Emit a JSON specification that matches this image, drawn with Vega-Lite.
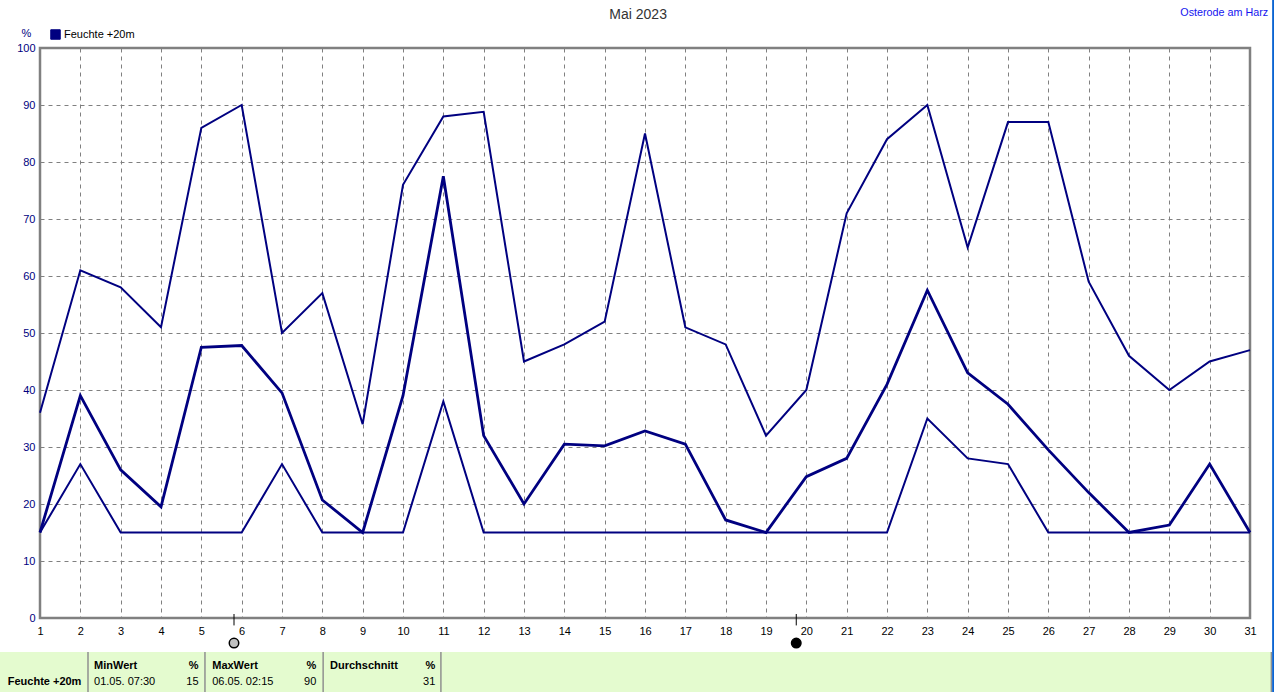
{"$schema":"https://vega.github.io/schema/vega-lite/v6.json","width":1210,"height":570,"autosize":{"type":"none"},"padding":{"left":40,"top":48,"right":24,"bottom":74},"background":"white","view":{"stroke":"#808080","strokeWidth":2.5},"config":{"font":"Liberation Sans"},"datasets":{"series":[
{"day":1,"max":36,"mean":15,"min":15},{"day":2,"max":61,"mean":39,"min":27},{"day":3,"max":58,"mean":26,"min":15},{"day":4,"max":51,"mean":19.5,"min":15},{"day":5,"max":86,"mean":47.5,"min":15},{"day":6,"max":90,"mean":47.8,"min":15},{"day":7,"max":50,"mean":39.5,"min":27},{"day":8,"max":57,"mean":20.7,"min":15},{"day":9,"max":34,"mean":15,"min":15},{"day":10,"max":76,"mean":39,"min":15},{"day":11,"max":88,"mean":77.5,"min":38},{"day":12,"max":88.8,"mean":32,"min":15},{"day":13,"max":45,"mean":20,"min":15},{"day":14,"max":48,"mean":30.5,"min":15},{"day":15,"max":52,"mean":30.2,"min":15},{"day":16,"max":85,"mean":32.8,"min":15},{"day":17,"max":51,"mean":30.5,"min":15},{"day":18,"max":48,"mean":17.2,"min":15},{"day":19,"max":32,"mean":15,"min":15},{"day":20,"max":40,"mean":24.8,"min":15},{"day":21,"max":71,"mean":28,"min":15},{"day":22,"max":84,"mean":41,"min":15},{"day":23,"max":90,"mean":57.5,"min":35},{"day":24,"max":65,"mean":43,"min":28},{"day":25,"max":87,"mean":37.5,"min":27},{"day":26,"max":87,"mean":29.5,"min":15},{"day":27,"max":59,"mean":22,"min":15},{"day":28,"max":46,"mean":15,"min":15},{"day":29,"max":40,"mean":16.3,"min":15},{"day":30,"max":45,"mean":27,"min":15},{"day":31,"max":47,"mean":15,"min":15}],
"band":[{"a":0,"b":31.53,"lo":-13.1,"hi":-5.96}],
"seps":[{"day":2.19},{"day":5.09},{"day":8.02},{"day":10.94},{"day":31.53}],
"moons":[{"day":5.81,"phase":"full"},{"day":19.75,"phase":"new"}],
"boldLeft":[
{"day":0.2,"pct":-11.25,"t":"Feuchte +20m"},
{"day":2.34,"pct":-8.4,"t":"MinWert"},
{"day":5.27,"pct":-8.4,"t":"MaxWert"},
{"day":8.19,"pct":-8.4,"t":"Durchschnitt"}],
"normalLeft":[
{"day":2.34,"pct":-11.25,"t":"01.05.  07:30"},
{"day":5.27,"pct":-11.25,"t":"06.05.  02:15"}],
"boldRight":[
{"day":4.93,"pct":-8.4,"t":"%"},
{"day":7.85,"pct":-8.4,"t":"%"},
{"day":10.8,"pct":-8.4,"t":"%"}],
"normalRight":[
{"day":4.93,"pct":-11.25,"t":"15"},
{"day":7.85,"pct":-11.25,"t":"90"},
{"day":10.8,"pct":-11.25,"t":"31"}],
"heading":[{"day":15.83,"pct":105.8,"t":"Mai 2023"}],
"place":[{"day":31.45,"pct":106.2,"t":"Osterode am Harz"}],
"edge":[{"day":31.58,"lo":-13.1,"hi":108.4}]},
"encoding":{"x":{"field":"day","type":"quantitative","scale":{"domain":[1,31],"nice":false,"zero":false},"axis":{"values":[1,2,3,4,5,6,7,8,9,10,11,12,13,14,15,16,17,18,19,20,21,22,23,24,25,26,27,28,29,30,31],"title":null,"format":"d","domain":false,"ticks":false,"labelPadding":7,"labelFontSize":11,"labelColor":"#000000","labelFont":"Liberation Sans","gridColor":"#808080","gridDash":[4,4],"gridWidth":1,"gridOpacity":1,"labelOverlap":false,"labelFlush":false}}},
"layer":[
{"data":{"name":"band"},"mark":{"type":"rect","color":"#E4FBCF","clip":false},"encoding":{"x":{"field":"a","type":"quantitative"},"x2":{"field":"b"},"y":{"field":"lo","type":"quantitative"},"y2":{"field":"hi"}}},
{"data":{"name":"seps"},"mark":{"type":"rule","color":"#909090","strokeWidth":1.5},"encoding":{"x":{"field":"day","type":"quantitative"},"y":{"datum":-5.96,"type":"quantitative"},"y2":{"datum":-13.1}}},
{"data":{"name":"edge"},"mark":{"type":"rule","color":"#0A64D2","strokeWidth":2.5},"encoding":{"x":{"field":"day","type":"quantitative"},"y":{"field":"lo","type":"quantitative"},"y2":{"field":"hi"}}},
{"data":{"name":"series"},"mark":{"type":"line","strokeWidth":2},"encoding":{"y":{"field":"max","type":"quantitative","scale":{"domain":[0,100],"nice":false},"axis":{"values":[0,10,20,30,40,50,60,70,80,90,100],"title":"%","titleAngle":0,"titleX":-14,"titleY":-10,"titleColor":"#000080","titleFontSize":11,"titleFontWeight":"normal","titleFont":"Liberation Sans","domain":false,"ticks":false,"labelPadding":5,"labelFontSize":11,"labelColor":"#000080","labelFont":"Liberation Sans","gridColor":"#808080","gridDash":[4,4],"gridWidth":1,"gridOpacity":1}},"color":{"datum":"Feuchte +20m","type":"nominal","scale":{"range":["#000080"]},"legend":{"title":null,"orient":"none","legendX":10,"legendY":-19,"symbolType":"square","symbolFillColor":"#000080","symbolSize":90,"symbolStrokeWidth":1,"labelFontSize":11,"labelColor":"#000000","labelFont":"Liberation Sans","labelOffset":3,"padding":0}}}},
{"data":{"name":"series"},"mark":{"type":"line","strokeWidth":2,"color":"#000080"},"encoding":{"y":{"field":"min","type":"quantitative"}}},
{"data":{"name":"series"},"mark":{"type":"line","strokeWidth":2.8,"color":"#000080"},"encoding":{"y":{"field":"mean","type":"quantitative"}}},
{"data":{"name":"moons"},"mark":{"type":"rule","color":"#000000","strokeWidth":1},"encoding":{"x":{"field":"day","type":"quantitative"},"y":{"datum":0.7,"type":"quantitative"},"y2":{"datum":-1.3}}},
{"data":{"name":"moons"},"mark":{"type":"point","filled":true,"shape":"circle","size":90,"opacity":1,"stroke":"#000000","strokeWidth":1.5},"encoding":{"x":{"field":"day","type":"quantitative"},"y":{"datum":-4.4,"type":"quantitative"},"fill":{"field":"phase","type":"nominal","scale":{"domain":["full","new"],"range":["#C0C0C0","#000000"]},"legend":null}}},
{"data":{"name":"boldLeft"},"mark":{"type":"text","align":"left","baseline":"middle","fontSize":11,"fontWeight":"bold","color":"#000000"},"encoding":{"x":{"field":"day","type":"quantitative"},"y":{"field":"pct","type":"quantitative"},"text":{"field":"t"}}},
{"data":{"name":"normalLeft"},"mark":{"type":"text","align":"left","baseline":"middle","fontSize":11,"color":"#000000"},"encoding":{"x":{"field":"day","type":"quantitative"},"y":{"field":"pct","type":"quantitative"},"text":{"field":"t"}}},
{"data":{"name":"boldRight"},"mark":{"type":"text","align":"right","baseline":"middle","fontSize":11,"fontWeight":"bold","color":"#000000"},"encoding":{"x":{"field":"day","type":"quantitative"},"y":{"field":"pct","type":"quantitative"},"text":{"field":"t"}}},
{"data":{"name":"normalRight"},"mark":{"type":"text","align":"right","baseline":"middle","fontSize":11,"color":"#000000"},"encoding":{"x":{"field":"day","type":"quantitative"},"y":{"field":"pct","type":"quantitative"},"text":{"field":"t"}}},
{"data":{"name":"heading"},"mark":{"type":"text","align":"center","baseline":"middle","fontSize":14,"color":"#333333"},"encoding":{"x":{"field":"day","type":"quantitative"},"y":{"field":"pct","type":"quantitative"},"text":{"field":"t"}}},
{"data":{"name":"place"},"mark":{"type":"text","align":"right","baseline":"middle","fontSize":10.75,"color":"#1414F0"},"encoding":{"x":{"field":"day","type":"quantitative"},"y":{"field":"pct","type":"quantitative"},"text":{"field":"t"}}}
]}
